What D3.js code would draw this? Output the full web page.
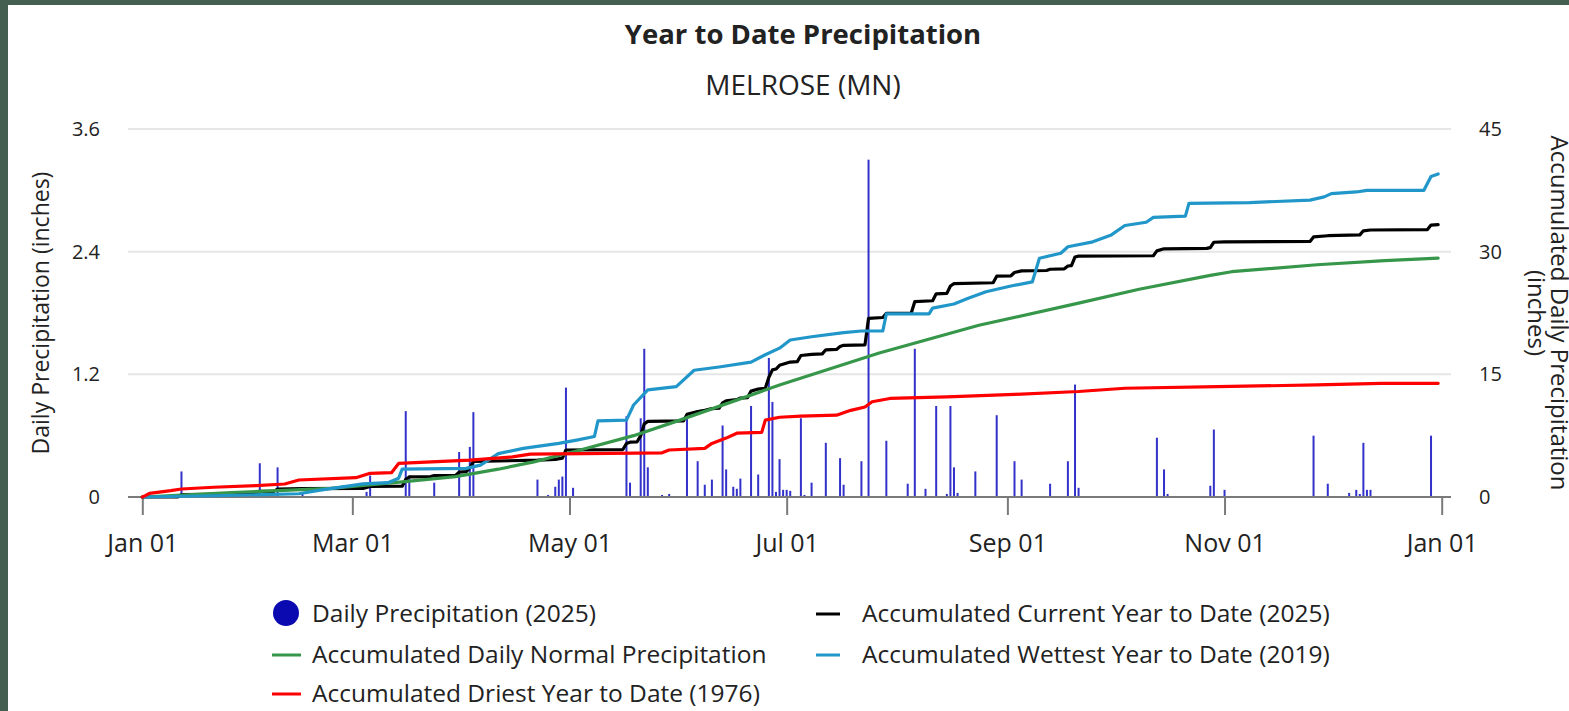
<!DOCTYPE html>
<html>
<head>
<meta charset="utf-8">
<script src="https://cdn.jsdelivr.net/npm/d3@7"></script>
<style>
  html, body { margin: 0; padding: 0; background: #445e50; }
  svg { display: block; }
  text { font-family: "Segoe UI", "Open Sans", "Noto Sans", sans-serif; fill: #222; }
</style>
</head>
<body>
<svg id="chart" width="1569" height="711"></svg>
<script>
// daily precipitation 2025: [day of year (0 = Jan 01), inches]
const dailyPrecip = [
  [11,0.25],[33,0.33],[38,0.29],[45,0.04],[63,0.05],[64,0.21],[74,0.84],[75,0.21],
  [82,0.14],[89,0.44],[92,0.49],[93,0.83],[111,0.17],[114,0.02],[116,0.1],[117,0.17],
  [118,0.2],[119,1.07],[121,0.09],[136,0.79],[137,0.14],[140,0.77],[141,1.45],[142,0.29],
  [146,0.02],[148,0.03],[153,0.78],[156,0.35],[158,0.12],[160,0.17],[163,0.7],[164,0.27],
  [166,0.1],[167,0.08],[168,0.18],[171,0.89],[173,0.22],[176,1.36],[177,0.93],[178,0.05],
  [179,0.37],[180,0.07],[181,0.07],[182,0.06],[185,0.77],[186,0.02],[188,0.14],[192,0.53],
  [196,0.38],[197,0.12],[202,0.35],[204,3.30],[209,0.55],[215,0.13],[217,1.45],[220,0.08],
  [223,0.89],[226,0.03],[227,0.89],[228,0.29],[229,0.04],[234,0.25],[240,0.8],[245,0.35],
  [247,0.17],[255,0.13],[260,0.35],[262,1.1],[263,0.09],[285,0.58],[287,0.27],[288,0.03],
  [300,0.11],[301,0.66],[304,0.07],[329,0.6],[333,0.13],[339,0.04],[341,0.07],[342,0.03],
  [343,0.53],[344,0.07],[345,0.07],[362,0.6]
];

// accumulated series: [day of year, inches]
const currentAccum = [
  [0,0],[10,0.02],[11,0.3],[32,0.35],[33,0.68],[37,0.7],[38,0.98],[45,1.03],[62,1.05],
  [64,1.3],[73,1.32],[74,2.15],[75,2.45],[81,2.5],[82,2.62],[88,2.65],[89,3.05],[91,3.1],
  [92,3.55],[93,4.35],[111,4.5],[116,4.6],[118,4.75],[119,5.75],[135,5.8],[136,6.55],
  [137,6.7],[139,6.75],[140,7.5],[141,8.95],[142,9.25],[152,9.3],[153,10.1],[156,10.45],
  [158,10.6],[160,10.8],[162,10.85],[163,11.5],[164,11.75],[167,11.9],[168,12.1],[170,12.15],
  [171,12.95],[173,13.2],[175,13.3],[176,14.65],[177,15.55],[178,15.65],[179,16.1],[182,16.5],
  [184,16.55],[185,17.3],[188,17.45],[191,17.5],[192,18.0],[195,18.05],[196,18.4],[197,18.55],
  [203,18.6],[204,21.85],[208,21.95],[209,22.45],[216,22.5],[217,23.9],[222,24.0],[223,24.85],
  [226,24.9],[227,25.8],[228,26.1],[239,26.2],[240,27.0],[244,27.05],[245,27.45],[247,27.65],
  [254,27.7],[255,27.85],[259,27.9],[260,28.25],[261,28.3],[262,29.35],[263,29.45],[284,29.5],
  [285,30.1],[287,30.35],[299,30.4],[300,30.5],[301,31.15],[304,31.2],[328,31.25],[329,31.8],
  [333,31.95],[342,32.05],[343,32.55],[345,32.65],[361,32.7],[362,33.25],[364,33.3]
];

const normalAccum = [
  [0,0],[25,0.55],[53,1.05],[73,1.85],[88,2.5],[100,3.4],[110,4.3],[123,5.75],[138,7.5],
  [151,9.4],[179,13.7],[207,17.6],[235,21.0],[263,23.7],[280,25.4],[300,27.1],[306,27.55],
  [330,28.4],[349,28.9],[364,29.2]
];

const wettestAccum = [
  [0,0],[20,0.15],[44,0.4],[50,0.85],[62,1.6],[69,1.75],[72,2.3],[73,3.4],[91,3.5],
  [95,3.9],[100,5.3],[107,5.95],[117,6.55],[122,6.95],[127,7.4],[128,9.3],[136,9.4],
  [138,11.25],[142,13.1],[150,13.5],[155,15.5],[162,15.9],[171,16.5],[175,17.4],[179,18.2],
  [182,19.2],[188,19.6],[197,20.1],[202,20.3],[208,20.3],[209,22.4],[221,22.4],[222,23.1],
  [228,23.6],[232,24.3],[237,25.1],[244,25.8],[250,26.3],[252,29.2],[258,29.8],[260,30.6],
  [267,31.2],[272,32.0],[276,33.2],[282,33.6],[284,34.2],[293,34.35],[294,35.9],[311,36.0],
  [328,36.3],[332,36.7],[334,37.1],[341,37.3],[344,37.5],[360,37.5],[362,39.2],[364,39.5]
];

const driestAccum = [
  [0,0],[1,0.2],[2,0.45],[8,0.77],[11,0.98],[20,1.19],[32,1.39],[40,1.59],[44,2.08],
  [60,2.36],[64,2.9],[70,2.97],[72,4.1],[92,4.5],[104,4.9],[109,5.25],[146,5.4],[148,5.75],
  [158,5.95],[160,6.55],[164,7.2],[167,7.8],[174,7.9],[175,9.4],[179,9.75],[185,9.9],
  [195,10.0],[199,10.6],[203,11.0],[205,11.65],[210,12.05],[226,12.25],[245,12.55],
  [263,12.9],[276,13.3],[302,13.5],[330,13.7],[348,13.9],[364,13.9]
];

const leftTicks = [0, 1.2, 2.4, 3.6];
const rightTicks = [0, 15, 30, 45];
const monthTicks = ["2025-01-01","2025-03-01","2025-05-01","2025-07-01","2025-09-01","2025-11-01","2026-01-01"];

const legendItems = [
  { label: "Daily Precipitation (2025)", color: "#0a0ab0", type: "circle", col: 0, row: 0 },
  { label: "Accumulated Current Year to Date (2025)", color: "#000000", type: "line", col: 1, row: 0 },
  { label: "Accumulated Daily Normal Precipitation", color: "#36964a", type: "line", col: 0, row: 1 },
  { label: "Accumulated Wettest Year to Date (2019)", color: "#2196c9", type: "line", col: 1, row: 1 },
  { label: "Accumulated Driest Year to Date (1976)", color: "#ff0000", type: "line", col: 0, row: 2 }
];

const W = 1569, H = 711;
const svg = d3.select("#chart");

// white card, dark frame shows on the left and top
svg.append("rect").attr("x", 8).attr("y", 5).attr("width", W - 8).attr("height", H - 5).attr("fill", "#fff");

const start = new Date(2025, 0, 1);
const toDate = d => d3.timeDay.offset(start, d);
const x = d3.scaleTime().domain([start, new Date(2026, 0, 1)]).range([142.3, 1441.7]);
const yL = d3.scaleLinear().domain([0, 3.6]).range([497, 129]);
const yR = d3.scaleLinear().domain([0, 45]).range([497, 129]);

// grid
svg.append("g").selectAll("line").data(leftTicks.filter(t => t > 0)).join("line")
  .attr("x1", 128).attr("x2", 1451)
  .attr("y1", d => yL(d)).attr("y2", d => yL(d))
  .attr("stroke", "#e6e6e6").attr("stroke-width", 2);

// y axes (labels only)
const axL = svg.append("g").attr("transform", "translate(128,0)")
  .call(d3.axisLeft(yL).tickValues(leftTicks).tickSize(0).tickPadding(28)
    .tickFormat(d => d === 0 ? "0" : d3.format(".1f")(d)));
axL.select(".domain").remove();
axL.selectAll("text").attr("x", -28).attr("text-anchor", "end")
  .style("font-size", "20px").attr("fill", "#222").style("font-family", null);

const axR = svg.append("g").attr("transform", "translate(1451,0)")
  .call(d3.axisRight(yR).tickValues(rightTicks).tickSize(0).tickPadding(28));
axR.select(".domain").remove();
axR.selectAll("text").attr("x", 28).attr("text-anchor", "start")
  .style("font-size", "20px").attr("fill", "#222").style("font-family", null);

// daily bars
svg.append("g").selectAll("rect").data(dailyPrecip).join("rect")
  .attr("x", d => x(toDate(d[0])) - 1)
  .attr("width", 2)
  .attr("y", d => yL(d[1]))
  .attr("height", d => yL(0) - yL(d[1]))
  .attr("fill", "#1c1cc4")
  .attr("fill-opacity", 0.9);

// x axis
const axX = svg.append("g").attr("transform", "translate(0,497)")
  .call(d3.axisBottom(x).tickValues(monthTicks.map(s => d3.timeParse("%Y-%m-%d")(s)))
    .tickFormat(d3.timeFormat("%b %d")).tickSize(18).tickPadding(19));
axX.select(".domain").attr("d", "M128,0H1451").attr("stroke", "#7a7a7a").attr("stroke-width", 2);
axX.selectAll(".tick line").attr("stroke", "#7a7a7a").attr("stroke-width", 2);
axX.selectAll("text").style("font-size", "25px").attr("fill", "#222").style("font-family", null);

// accumulated lines
const line = d3.line().x(d => x(toDate(d[0]))).y(d => yR(d[1]));
const series = [
  [currentAccum, "#000000"],
  [normalAccum, "#36964a"],
  [wettestAccum, "#2196c9"],
  [driestAccum, "#ff0000"]
];
svg.append("g").selectAll("path").data(series).join("path")
  .attr("d", d => line(d[0]))
  .attr("fill", "none")
  .attr("stroke", d => d[1])
  .attr("stroke-width", 3.2)
  .attr("stroke-linejoin", "round")
  .attr("stroke-linecap", "round");

// titles
svg.append("text").attr("x", 803).attr("y", 44).attr("text-anchor", "middle")
  .style("font-size", "27.5px").style("font-weight", "bold").attr("fill", "#000")
  .text("Year to Date Precipitation");
svg.append("text").attr("x", 803).attr("y", 95).attr("text-anchor", "middle")
  .style("font-size", "28px").text("MELROSE (MN)");

svg.append("text").attr("transform", "translate(49,313) rotate(-90)").attr("text-anchor", "middle")
  .style("font-size", "23px").text("Daily Precipitation (inches)");
const rt = svg.append("text").attr("transform", "translate(1551,313) rotate(90)").attr("text-anchor", "middle")
  .style("font-size", "24px");
rt.append("tspan").attr("x", 0).attr("y", 0).text("Accumulated Daily Precipitation");
rt.append("tspan").attr("x", 0).attr("y", 23).text("(inches)");

// legend
const colX = [{ sym: 272, text: 312 }, { sym: 816, text: 862 }];
const rowY = [613, 654, 693];
const lg = svg.append("g").selectAll("g").data(legendItems).join("g")
  .attr("transform", d => `translate(0,${rowY[d.row]})`);
lg.filter(d => d.type === "circle").append("circle")
  .attr("cx", d => colX[d.col].sym + 14).attr("cy", 0).attr("r", 13).attr("fill", d => d.color);
lg.filter(d => d.type === "line").append("line")
  .attr("x1", d => colX[d.col].sym).attr("x2", d => colX[d.col].sym + (d.col ? 24 : 29))
  .attr("y1", 1).attr("y2", 1).attr("stroke", d => d.color).attr("stroke-width", 3);
lg.append("text").attr("x", d => colX[d.col].text).attr("y", 0).attr("dy", "0.35em")
  .style("font-size", "24.5px").text(d => d.label);
</script>
</body>
</html>
